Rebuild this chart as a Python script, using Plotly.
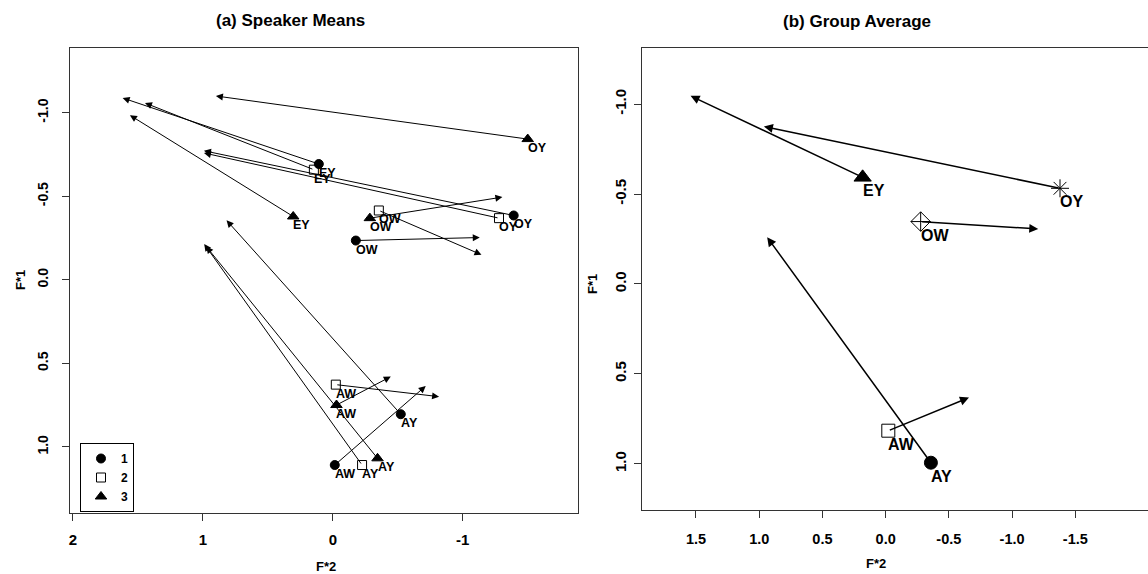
import plotly.graph_objects as go

W, H = 1148, 574

# ---------------- data ----------------
vowels = ["AY", "AW", "EY", "OW", "OY"]
speakers = ["1", "2", "3"]

# Panel (a): speaker means, start point (F*2, F*1) and arrow end point
sp1_x = [-0.523, -0.015, 0.108, -0.177, -1.392]
sp1_y = [0.804, 1.108, -0.693, -0.235, -0.385]
sp1_ex = [0.818, -0.715, 1.618, -1.131, 0.992]
sp1_ey = [-0.356, 0.635, -1.088, -0.253, -0.772]

sp2_x = [-0.225, -0.023, 0.146, -0.354, -1.279]
sp2_y = [1.108, 0.627, -0.659, -0.415, -0.369]
sp2_ex = [0.990, -0.818, 1.446, -1.144, 0.992]
sp2_ey = [-0.214, 0.699, -1.058, -0.150, -0.759]

sp3_x = [-0.344, -0.028, 0.305, -0.285, -1.500]
sp3_y = [1.068, 0.749, -0.379, -0.369, -0.842]
sp3_ex = [0.975, -0.446, 1.562, -1.305, 0.900]
sp3_ey = [-0.200, 0.579, -0.985, -0.495, -1.100]

# Panel (b): group averages
grp_x = [-0.358, -0.021, 0.182, -0.277, -1.379]
grp_y = [0.994, 0.816, -0.593, -0.347, -0.532]
grp_ex = [0.937, -0.659, 1.543, -1.207, 0.963]
grp_ey = [-0.260, 0.632, -1.046, -0.306, -0.875]

xa_ticks = [2, 1, 0, -1]
xa_text = ["2", "1", "0", "-1"]
xb_ticks = [1.5, 1.0, 0.5, 0.0, -0.5, -1.0, -1.5]
xb_text = ["1.5", "1.0", "0.5", "0.0", "-0.5", "-1.0", "-1.5"]
y_ticks = [-1.0, -0.5, 0.0, 0.5, 1.0]
y_text = ["-1.0", "-0.5", "0.0", "0.5", "1.0"]

# ---------------- style ----------------
FONT = "Liberation Sans, Arial, Helvetica, sans-serif"
INK = "black"
sp_symbols = ["circle", "square-open", "triangle-up"]
sp_sizes = [9, 9, 10]
grp_symbols = ["circle", "square-open", "triangle-up", "diamond-cross-open", "asterisk-open"]
grp_sizes = [13, 13, 15, 15, 15]

fig = go.Figure()

speaker_sets = [
    (sp1_x, sp1_y, sp1_ex, sp1_ey),
    (sp2_x, sp2_y, sp2_ex, sp2_ey),
    (sp3_x, sp3_y, sp3_ex, sp3_ey),
]

annotations = []

def arrow(x0, y0, x1, y1, xr, yr, width, size):
    return dict(x=x1, y=y1, ax=x0, ay=y0, xref=xr, yref=yr, axref=xr, ayref=yr,
                text="", showarrow=True, arrowhead=2, arrowsize=size,
                arrowwidth=width, arrowcolor=INK, standoff=0, startstandoff=0)

def label(x, y, t, xr, yr, fs, yshift):
    return dict(x=x, y=y, xref=xr, yref=yr, text=t, showarrow=False,
                xanchor="left", yanchor="top", yshift=yshift, xshift=-1, borderpad=0,
                font=dict(family=FONT, size=fs, color=INK, weight="bold"))

for i, (xs, ys, exs, eys) in enumerate(speaker_sets):
    for j in range(len(vowels)):
        annotations.append(arrow(xs[j], ys[j], exs[j], eys[j], "x", "y", 1, 1.4))
    fig.add_trace(go.Scatter(
        x=xs, y=ys, mode="markers", name=speakers[i],
        marker=dict(symbol=sp_symbols[i], size=sp_sizes[i], color=INK,
                    line=dict(color=INK, width=1)),
        xaxis="x", yaxis="y", showlegend=True, hoverinfo="skip"))
    for j in range(len(vowels)):
        annotations.append(label(xs[j], ys[j], vowels[j], "x", "y", 12.5, -1))

for j in range(len(vowels)):
    annotations.append(arrow(grp_x[j], grp_y[j], grp_ex[j], grp_ey[j], "x2", "y2", 1.5, 1.2))
    fig.add_trace(go.Scatter(
        x=[grp_x[j]], y=[grp_y[j]], mode="markers", name=vowels[j],
        marker=dict(symbol=grp_symbols[j], size=grp_sizes[j], color=INK,
                    line=dict(color=INK, width=1)),
        xaxis="x2", yaxis="y2", showlegend=False, hoverinfo="skip"))
    annotations.append(label(grp_x[j], grp_y[j], vowels[j], "x2", "y2", 16, -4))

def paper_text(px, py, t, fs, angle=0):
    return dict(x=px / W, y=1 - py / H, xref="paper", yref="paper", text=t,
                showarrow=False, xanchor="center", yanchor="middle", textangle=angle,
                font=dict(family=FONT, size=fs, color=INK, weight="bold"))

annotations += [
    paper_text(290, 20, "(a) Speaker Means", 17),
    paper_text(857, 21, "(b) Group Average", 17),
    paper_text(326, 566, "F*2", 13),
    paper_text(876, 563, "F*2", 13),
    paper_text(20, 280, "F*1", 13, -90),
    paper_text(593, 284, "F*1", 13, -90),
]

axis_common = dict(showgrid=False, zeroline=False, showline=True, linecolor="#333",
                   linewidth=1, ticks="outside", ticklen=7, tickcolor="#333",
                   tickmode="array")

fig.update_layout(
    width=W, height=H,
    margin=dict(l=0, r=0, t=0, b=0),
    paper_bgcolor="white", plot_bgcolor="white",
    font=dict(family=FONT, color=INK),
    xaxis=dict(domain=[70 / W, 578 / W], range=[2.023, -1.887], anchor="y",
               tickvals=xa_ticks, ticktext=xa_text, mirror=True,
               tickfont=dict(size=15, weight="bold"), ticklabelstandoff=6,
               **axis_common),
    yaxis=dict(domain=[1 - 513 / H, 1 - 48 / H], range=[1.395, -1.387], anchor="x",
               tickvals=y_ticks, ticktext=y_text, mirror=True, tickangle=-90,
               tickfont=dict(size=14, weight="bold"), ticklabelstandoff=8,
               **axis_common),
    xaxis2=dict(domain=[642 / W, 1.0], range=[1.927, -2.075], anchor="y2",
                tickvals=xb_ticks, ticktext=xb_text, mirror=True,
                tickfont=dict(size=14.5, weight="bold"), ticklabelstandoff=9,
                **axis_common),
    yaxis2=dict(domain=[1 - 510 / H, 1 - 47.5 / H], range=[1.257, -1.315], anchor="x2",
                tickvals=y_ticks, ticktext=y_text, mirror=False, tickangle=-90,
                tickfont=dict(size=15, weight="bold"), ticklabelstandoff=2,
                **axis_common),
    legend=dict(x=80 / W, y=1 - 443 / H, xanchor="left", yanchor="top",
                bordercolor=INK, borderwidth=1, bgcolor="white",
                font=dict(family=FONT, size=12, color=INK, weight="bold"),
                itemwidth=30, tracegroupgap=0),
    annotations=annotations,
    showlegend=True,
)

fig.write_html("out.html",
               config={"displayModeBar": False},
               post_script="document.body.style.margin='0';document.body.style.padding='0';"
                           "document.body.style.overflow='hidden';")
